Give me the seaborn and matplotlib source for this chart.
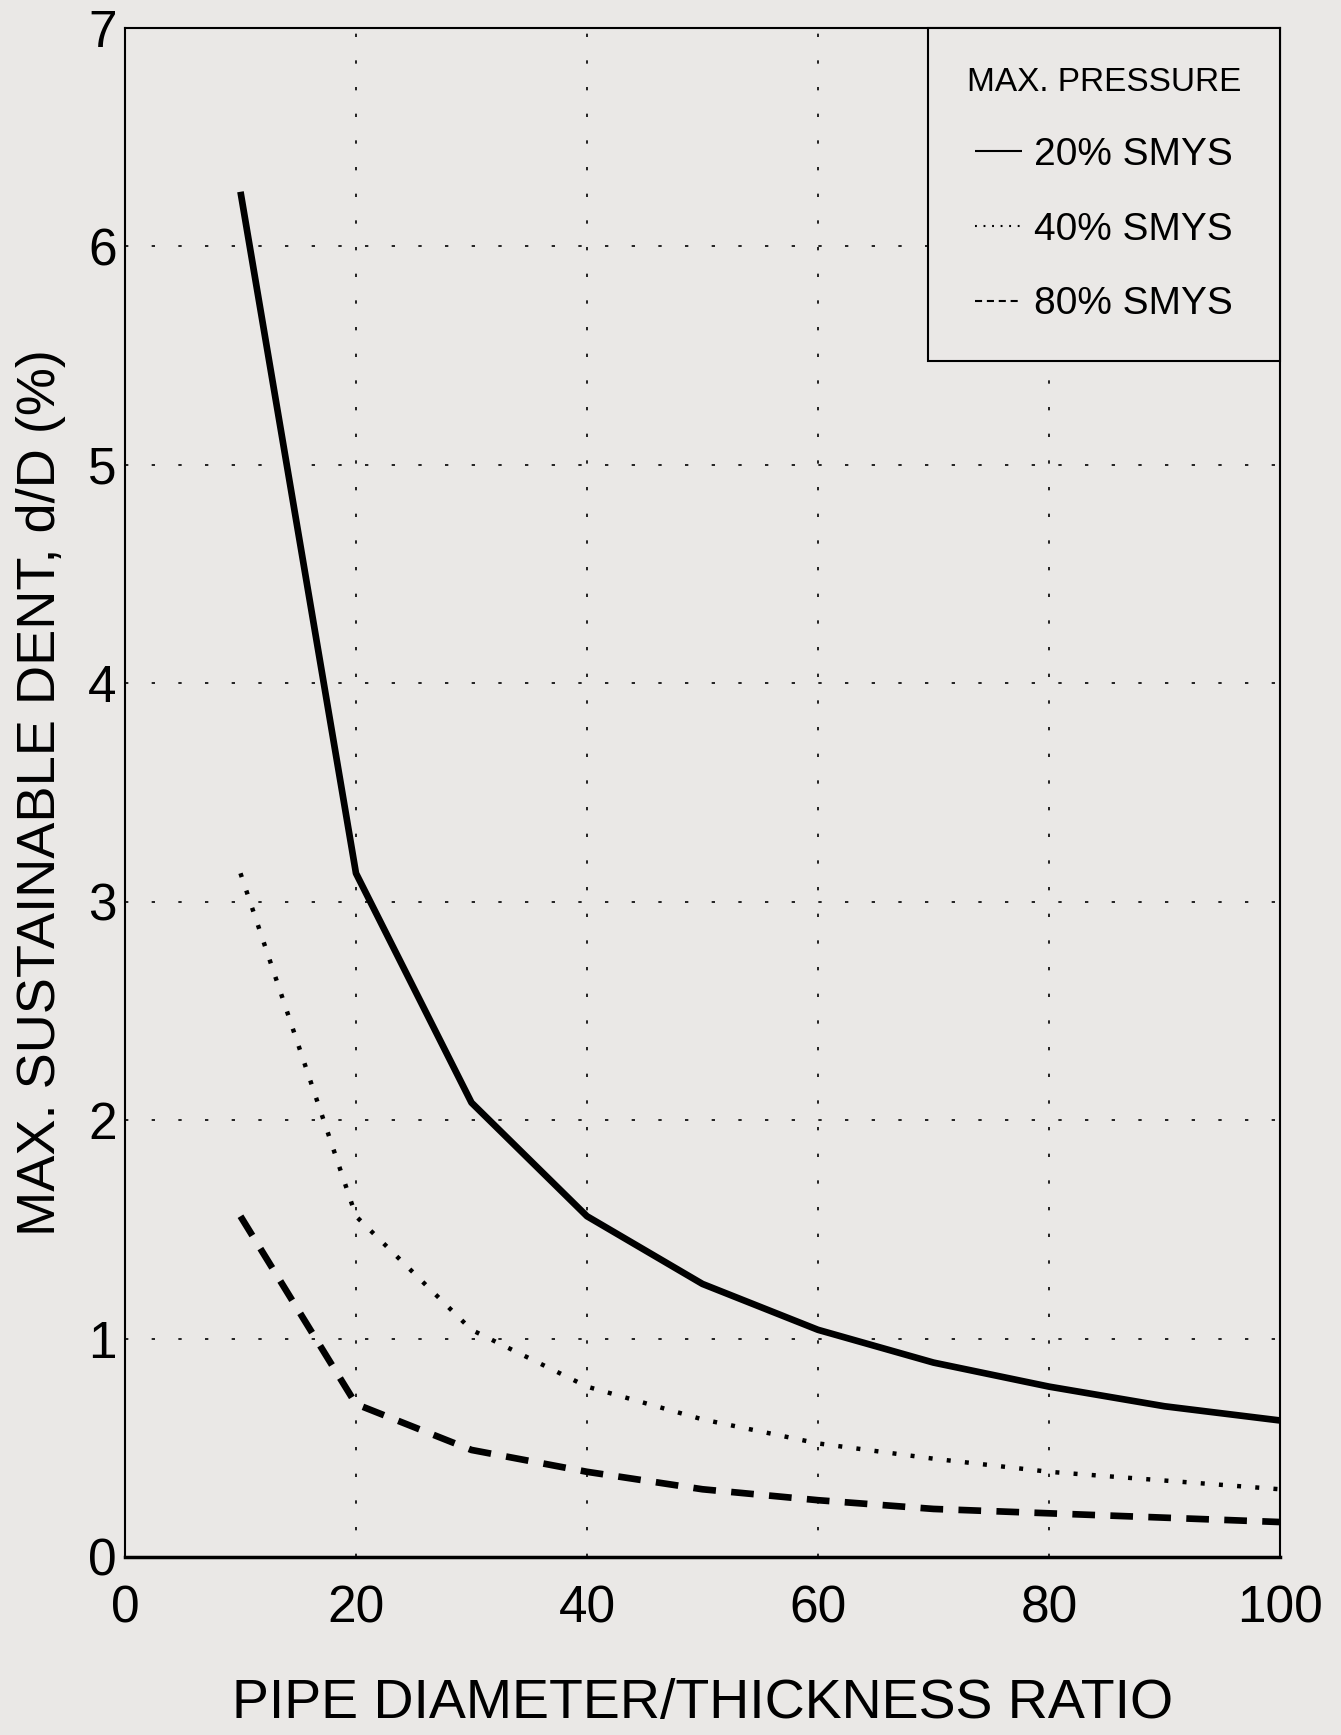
import pandas as pd
import seaborn as sns
import matplotlib.pyplot as plt

# values
dt_ratio = [10, 20, 30, 40, 50, 60, 70, 80, 90, 100]
dent_20 = [6.25, 3.13, 2.08, 1.56, 1.25, 1.04, 0.89, 0.78, 0.69, 0.625]
dent_40 = [3.13, 1.56, 1.04, 0.78, 0.63, 0.52, 0.45, 0.39, 0.35, 0.31]
dent_80 = [1.56, 0.70, 0.49, 0.39, 0.31, 0.26, 0.22, 0.20, 0.18, 0.16]
series_labels = ['20% SMYS', '40% SMYS', '80% SMYS']

rows = []
for lab, vals in zip(series_labels, [dent_20, dent_40, dent_80]):
    for x, y in zip(dt_ratio, vals):
        rows.append({'ratio': x, 'dent': y, 'pressure': lab})
df = pd.DataFrame(rows)

bg = '#eae8e6'
sns.set_style('white')
plt.rcParams['font.family'] = ['Liberation Sans', 'DejaVu Sans']
plt.rcParams['text.color'] = 'black'
plt.rcParams['axes.labelcolor'] = 'black'

fig = plt.figure(figsize=(13.41, 17.35), dpi=100, facecolor=bg)
ax = fig.add_axes([0.0932, 0.1026, 0.8613, 0.8813])
ax.set_facecolor(bg)

sns.lineplot(data=df, x='ratio', y='dent', hue='pressure', style='pressure',
             palette=['black'] * 3,
             dashes={'20% SMYS': '', '40% SMYS': (0.9, 3.2), '80% SMYS': (3.4, 2.3)},
             linewidth=4.8, errorbar=None, ax=ax)
for ln in ax.get_lines():
    ln.set_solid_capstyle('butt')
    ln.set_dash_capstyle('butt')
ax.get_lines()[1].set_linewidth(3.2)

ax.set_xlim(0, 100)
ax.set_ylim(0, 7)
ax.set_xticks([0, 20, 40, 60, 80, 100])
ax.set_yticks(range(8))
ax.grid(True, color='black', linewidth=1.2, linestyle=(0, (2, 14)))
ax.tick_params(direction='in', length=14, width=1.2, labelsize=37, colors='black')
ax.tick_params(axis='x', pad=20)
ax.tick_params(axis='y', pad=6)
for s in ax.spines.values():
    s.set_color('black')
    s.set_linewidth(1.5)
ax.spines['bottom'].set_linewidth(2.5)

ax.set_xlabel('PIPE DIAMETER/THICKNESS RATIO', fontsize=40, labelpad=32)
ax.set_ylabel('MAX. SUSTAINABLE DENT, d/D (%)', fontsize=39, labelpad=16)

handles, labels = ax.get_legend_handles_labels()
leg = ax.legend(handles, labels, title='MAX. PRESSURE', loc='upper right',
                bbox_to_anchor=(1, 1), borderaxespad=0, fontsize=28,
                title_fontsize=24, frameon=True, fancybox=False,
                edgecolor='black', facecolor=bg, framealpha=1,
                handlelength=1.2, handletextpad=0.3, labelspacing=1.0,
                borderpad=1.0)
leg.get_frame().set_linewidth(1.5)
for h in leg.get_lines():
    h.set_linewidth(1.5)

plt.savefig('out.png', dpi=100, facecolor=bg)
plt.close()
